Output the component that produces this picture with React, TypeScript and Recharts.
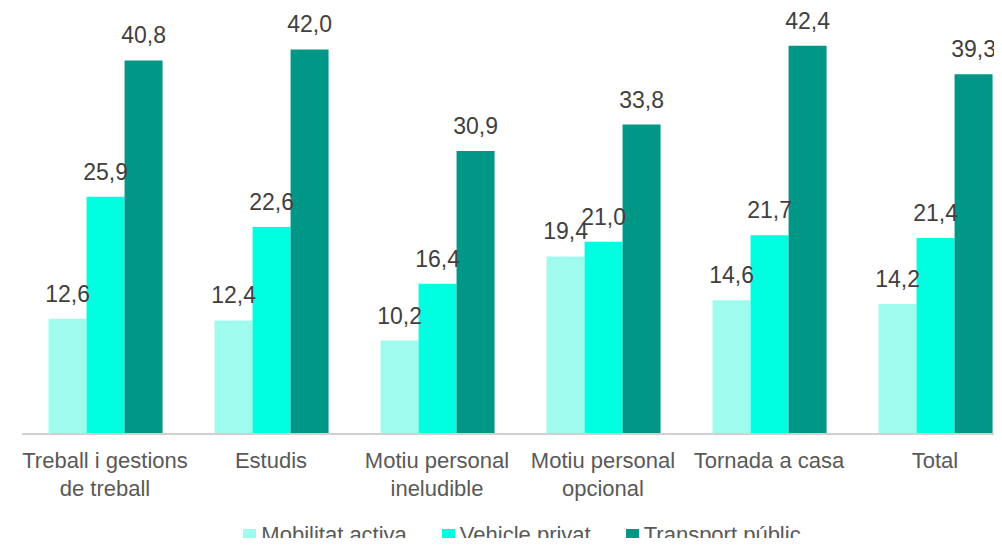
import { BarChart, Bar, XAxis, YAxis, Legend, LabelList } from 'recharts';

// ── data ────────────────────────────────────────────────────
const categories = [
  'Treball i gestions\nde treball',
  'Estudis',
  'Motiu personal\nineludible',
  'Motiu personal\nopcional',
  'Tornada a casa',
  'Total',
];
const mobilitatActiva = [12.6, 12.4, 10.2, 19.4, 14.6, 14.2];
const vehiclePrivat = [25.9, 22.6, 16.4, 21.0, 21.7, 21.4];
const transportPublic = [40.8, 42.0, 30.9, 33.8, 42.4, 39.3];

const series = [
  { key: 'activa', name: 'Mobilitat activa', color: '#A0FBEF', values: mobilitatActiva },
  { key: 'privat', name: 'Vehicle privat', color: '#00FFE0', values: vehiclePrivat },
  { key: 'public', name: 'Transport públic', color: '#009786', values: transportPublic },
];

const data = categories.map((name, i) => ({
  name,
  activa: mobilitatActiva[i],
  privat: vehiclePrivat[i],
  public: transportPublic[i],
}));

const FONT = '"Liberation Sans", Arial, sans-serif';
const fmt = (v: any) => Number(v).toFixed(1).replace('.', ',');

// ── custom pieces ───────────────────────────────────────────
function CategoryTick({ x, y, payload }: any) {
  const lines = String(payload.value).split('\n');
  return (
    <text x={x} y={y} textAnchor="middle" fill="#595959" fontSize={22} fontFamily={FONT}>
      {lines.map((line, i) => (
        <tspan key={i} x={x} dy={i === 0 ? 26 : 28}>
          {line}
        </tspan>
      ))}
    </text>
  );
}

function ChartLegend() {
  return (
    <div
      style={{
        height: 24,
        position: 'relative',
        top: 1,
        paddingLeft: 4,
        display: 'flex',
        justifyContent: 'center',
        alignItems: 'center',
        gap: 35,
        fontFamily: FONT,
        fontSize: 22,
        lineHeight: '24px',
        color: '#595959',
      }}
    >
      {series.map((s) => (
        <div key={s.key} style={{ display: 'flex', alignItems: 'center', gap: 5 }}>
          <span style={{ width: 13, height: 13, background: s.color, display: 'inline-block' }} />
          <span>{s.name}</span>
        </div>
      ))}
    </div>
  );
}

export default function App() {
  return (
    <div style={{ margin: -8, width: 1002, height: 546, background: '#fff', overflow: 'hidden' }}>
      <BarChart
        width={1018}
        height={546}
        data={data}
        margin={{ top: 22, right: 0, left: 22, bottom: 0 }}
        barCategoryGap="16%"
        barGap={0}
      >
        <XAxis
          dataKey="name"
          interval={0}
          height={88}
          tick={<CategoryTick />}
          tickLine={false}
          axisLine={{ stroke: '#D0D0D0', strokeWidth: 2 }}
        />
        <YAxis hide domain={[0, 45]} />
        <Legend verticalAlign="bottom" content={<ChartLegend />} />
        {series.map((s) => (
          <Bar key={s.key} dataKey={s.key} name={s.name} fill={s.color} isAnimationActive={false}>
            <LabelList
              dataKey={s.key}
              position="top"
              offset={17}
              formatter={fmt}
              fill="#404040"
              fontSize={23}
              fontFamily={FONT}
            />
          </Bar>
        ))}
      </BarChart>
    </div>
  );
}
